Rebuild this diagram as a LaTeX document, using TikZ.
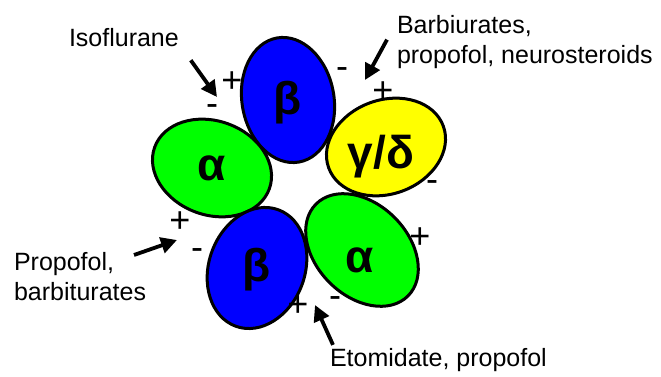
\documentclass[tikz,border=0pt]{standalone}
\usepackage{fontspec}
\setmainfont{Liberation Sans}
\usetikzlibrary{shapes.geometric, arrows.meta}

\definecolor{alphagreen}{RGB}{0,255,0}
\definecolor{betablue}{RGB}{0,0,255}
\definecolor{gammayellow}{RGB}{255,255,0}

\begin{document}
\begin{tikzpicture}[
  x=1pt, y=1pt,
  font=\fontsize{25}{30}\selectfont,
  every node/.style={inner sep=0pt, outer sep=0pt},
  %% --- styles ---
  subunit/.style={ellipse, draw=black, line width=3pt},
  greek/.style={font=\fontsize{46}{54}\selectfont\bfseries},
  sign/.style={font=\fontsize{36}{40}\selectfont},
  drug/.style={align=left},
  bindarrow/.style={-{Triangle[length=16pt, width=16pt]}, line width=3.8pt}
]
  \useasboundingbox (0,0) rectangle (661,377);

  %% --- 1. receptor subunits ---
  \node[subunit, fill=betablue, minimum width=92pt, minimum height=126pt, rotate=10] (betaTop) at (288,277) {};
  \node[subunit, fill=alphagreen, minimum width=122pt, minimum height=94pt, rotate=-20] (alphaLeft) at (212,209) {};
  \node[subunit, fill=gammayellow, minimum width=122pt, minimum height=94pt, rotate=20] (gammaDelta) at (386,230) {};
  \node[subunit, fill=betablue, minimum width=96pt, minimum height=124pt, rotate=-20] (betaBottom) at (257,109) {};
  \node[subunit, fill=alphagreen, minimum width=130pt, minimum height=92pt, rotate=-45] (alphaBottom) at (362,127) {};

  % subunit names
  \node[greek] (betaTopTxt) at (288,274) {β};
  \node[greek] (alphaLeftTxt) at (212,209) {α};
  \node[greek] (gammaDeltaTxt) at (381,220) {γ/δ};
  \node[greek] (betaBottomTxt) at (257,107) {β};
  \node[greek] (alphaBottomTxt) at (360,117) {α};

  %% --- 2. interface signs ---
  \node[sign] (isoPlus) at (232,295) {+};
  \node[sign] (isoMinus) at (212,267) {-};
  \node[sign] (barbMinus) at (342,304) {-};
  \node[sign] (barbPlus) at (383,285) {+};
  \node[sign] (gammaMinus) at (432,191) {-};
  \node[sign] (alphaPlus) at (420,139) {+};
  \node[sign] (etomMinus) at (335,75) {-};
  \node[sign] (etomPlus) at (298,71) {+};
  \node[sign] (propMinus) at (197,123) {-};
  \node[sign] (propPlus) at (180,155) {+};

  %% --- 3. drug labels ---
  \node[drug, anchor=base west] (iso) at (69,330) {Isoflurane};
  \node[drug, anchor=north west] (barb) at (397,362) {Barbiurates,\\propofol, neurosteroids};
  \node[drug, anchor=north west] (prop) at (14,125) {Propofol,\\barbiturates};
  \node[drug, anchor=base west] (etom) at (330,10) {Etomidate, propofol};

  % binding sites
  \coordinate (isoSite) at (217,280);
  \coordinate (barbSite) at (365,297);
  \coordinate (propSite) at (177,137);
  \coordinate (etomSite) at (315,72);

  \draw[bindarrow] ([xshift=12pt, yshift=-13pt]iso.south east) -- (isoSite);
  \draw[bindarrow] ([xshift=-10pt, yshift=2pt]barb.west) -- (barbSite);
  \draw[bindarrow] ([xshift=-12pt, yshift=-3pt]prop.north east) -- (propSite);
  \draw[bindarrow] ([xshift=3pt, yshift=4pt]etom.north west) -- (etomSite);

\end{tikzpicture}
\end{document}
